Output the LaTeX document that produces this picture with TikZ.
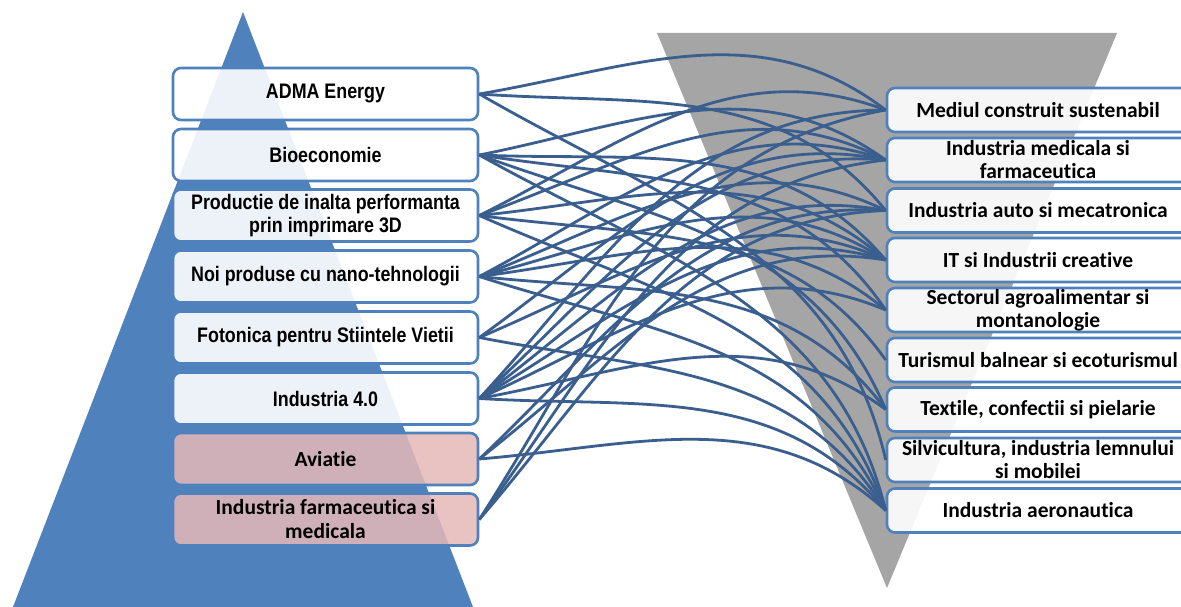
\documentclass[tikz,border=0pt]{standalone}
\usepackage{fontspec}
\setmainfont{Carlito}
\newfontfamily\leftfont[FakeStretch=0.85]{Liberation Sans}
\newfontfamily\rightfont[Ligatures={NoCommon}]{Carlito}
\definecolor{triblue}{HTML}{4F81BD}
\definecolor{trigray}{HTML}{A5A5A5}
\definecolor{boxblue}{HTML}{4F81BD}
\definecolor{pinkf}{HTML}{E6B9B8}
\definecolor{linkc}{HTML}{3A5F8E}
\newcommand\lk[2]{\draw[link] (#1.east) to[relative, out=12, in=145] (#2.west);}
\begin{document}
\begin{tikzpicture}[x=1pt,y=-1pt,
  lbox/.style={draw=boxblue, line width=2.6pt, rounded corners=8pt, fill=white, fill opacity=0.9, text opacity=1,
    minimum width=305pt, minimum height=52pt, align=center, inner sep=0pt,
    font=\leftfont\bfseries\fontsize{21}{23}\selectfont},
  pbox/.style={lbox, fill=pinkf, fill opacity=0.85, font=\rightfont\bfseries\fontsize{21.5}{24}\selectfont},
  rbox/.style={draw=boxblue, line width=2.6pt, rounded corners=8pt, fill=white, fill opacity=0.9, text opacity=1,
    minimum width=302pt, minimum height=44pt, align=center, inner sep=0pt,
    font=\rightfont\bfseries\fontsize{21.5}{23}\selectfont},
  link/.style={draw=linkc, line width=2.8pt}]
\clip (0,0) rectangle (1181,607);
\fill[white] (0,0) rectangle (1181,607);
% background triangles
\fill[triblue] (243,12) -- (473,607) -- (13,607) -- cycle;
\fill[trigray] (657,33) -- (1117,33) -- (887,588) -- cycle;
% left boxes
\node[lbox] (a1) at (325.5,94) {ADMA Energy};
\node[lbox] (a2) at (325.5,155) {Bioeconomie};
\node[lbox] (a3) at (325.5,215.5) {Productie de inalta performanta\\prin imprimare 3D};
\node[lbox] (a4) at (325.5,276.5) {Noi produse cu nano-tehnologii};
\node[lbox] (a5) at (325.5,337.5) {Fotonica pentru Stiintele Vietii};
\node[lbox] (a6) at (325.5,398.5) {Industria 4.0};
\node[pbox] (a7) at (325.5,459) {Aviatie};
\node[pbox] (a8) at (325.5,519.5) {Industria farmaceutica si\\medicala};
% right boxes
\node[rbox] (b1) at (1038,110) {Mediul construit sustenabil};
\node[rbox] (b2) at (1038,160) {Industria medicala si\\farmaceutica};
\node[rbox] (b3) at (1038,210.5) {Industria auto si mecatronica};
\node[rbox] (b4) at (1038,260) {IT si Industrii creative};
\node[rbox] (b5) at (1038,310) {Sectorul agroalimentar si\\montanologie};
\node[rbox] (b6) at (1038,360) {Turismul balnear si ecoturismul};
\node[rbox] (b7) at (1038,409.5) {Textile, confectii si pielarie};
\node[rbox] (b8) at (1038,460) {Silvicultura, industria lemnului\\si mobilei};
\node[rbox] (b9) at (1038,510.5) {Industria aeronautica};
% links
\lk{a1}{b1} \lk{a1}{b3} \lk{a1}{b8}
\lk{a2}{b2} \lk{a2}{b4} \lk{a2}{b5} \lk{a2}{b7} \lk{a2}{b9}
\lk{a3}{b1} \lk{a3}{b2} \lk{a3}{b4} \lk{a3}{b6} \lk{a3}{b9}
\lk{a4}{b2} \lk{a4}{b3} \lk{a4}{b4} \lk{a4}{b5} \lk{a4}{b7} \lk{a4}{b9}
\lk{a5}{b2} \lk{a5}{b4} \lk{a5}{b9}
\lk{a6}{b1} \lk{a6}{b2} \lk{a6}{b3} \lk{a6}{b4} \lk{a6}{b5} \lk{a6}{b7} \lk{a6}{b9}
\lk{a7}{b3} \lk{a7}{b4} \lk{a7}{b9}
\lk{a8}{b1} \lk{a8}{b2} \lk{a8}{b3}
\end{tikzpicture}
\end{document}
